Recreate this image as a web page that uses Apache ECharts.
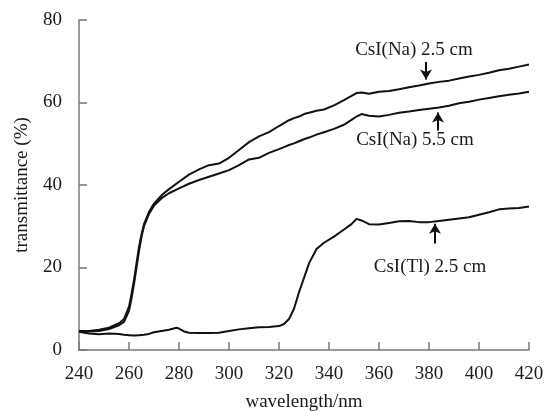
<!DOCTYPE html>
<html>
<head>
<meta charset="utf-8">
<script src="https://cdn.jsdelivr.net/npm/echarts@6/dist/echarts.min.js"></script>
<style>html,body{margin:0;padding:0;background:#fff}#c{width:546px;height:411px}</style>
</head>
<body>
<div id="c"></div>
<script>
// wavelength (nm) sample positions for the CsI(Na) curves
const wlNa = [240,244,248,252,256,258,260,261,262,263,264,265,266,268,270,273,276,280,284,288,292,296,300,304,308,312,316,320,322,324,326,328,330,332,335,338,342,346,349,351,353,356,360,364,368,372,376,380,384,388,392,396,400,404,408,412,416,420];
const na25 = [4.6,4.6,4.9,5.4,6.5,7.5,10.5,13.5,17,21,25,28,30.5,33.5,35.5,37.5,39,40.8,42.5,43.8,44.8,45.2,46.6,48.5,50.4,51.8,52.8,54.3,55,55.7,56.2,56.6,57.2,57.5,58,58.3,59.3,60.6,61.6,62.3,62.4,62.1,62.6,62.8,63.2,63.7,64.1,64.6,65,65.3,65.8,66.3,66.7,67.2,67.8,68.2,68.7,69.2];
const na55 = [4.6,4.5,4.6,5.1,6.0,6.8,9.5,12.5,16,20,24,27.5,30,33,35,36.8,38,39.2,40.3,41.2,42,42.8,43.6,44.8,46.2,46.6,47.8,48.7,49.2,49.7,50.1,50.6,51.1,51.5,52.2,52.8,53.6,54.6,55.8,56.6,57.2,56.8,56.6,57,57.5,57.8,58.2,58.5,58.8,59.2,59.8,60.2,60.7,61.1,61.5,61.9,62.2,62.6];
// wavelength (nm) sample positions for the CsI(Tl) curve
const wlTl = [240,244,248,252,256,258,260,262,264,266,268,270,273,276,279,280,282,284,288,292,296,300,304,308,312,316,320,322,324,326,328,330,332,335,338,342,346,349,351,353,356,360,364,368,372,376,380,384,388,392,396,400,404,408,412,416,420];
const tl25 = [4.4,4.0,3.8,4.0,3.9,3.7,3.6,3.5,3.6,3.7,3.9,4.3,4.6,4.9,5.4,5.2,4.5,4.2,4.1,4.1,4.2,4.6,5.0,5.3,5.5,5.6,5.8,6.3,7.5,10,14,17.5,21,24.5,26,27.5,29.2,30.5,31.8,31.4,30.5,30.4,30.8,31.2,31.3,31,31,31.3,31.6,31.9,32.2,32.8,33.4,34.1,34.3,34.4,34.8];

const seriesNames = ['CsI(Na) 2.5 cm','CsI(Na) 5.5 cm','CsI(Tl) 2.5 cm'];
// annotation label centres [x, y] and arrows [x, fromY, toY], in data units
const labelPos = [[374,72.8],[374.4,51.0],[380.4,20.0]];
const arrows = [[378.8,69.8,65.6],[383.6,53.2,57.6],[382.4,25.8,30.6]];

const xTicks = {min:240,max:420,interval:20};
const yTicks = {min:0,max:80,interval:20};

const FONT = "'Liberation Serif','Times New Roman',serif";
const TXT = '#1a1a1a';
const AX = '#7a7a7a';

function zip(xs, ys){ return xs.map((x,i)=>[x,ys[i]]); }
const dataSets = [zip(wlNa,na25), zip(wlNa,na55), zip(wlTl,tl25)];

const series = dataSets.map((d,i)=>({
  name: seriesNames[i],
  type:'line',
  data:d,
  showSymbol:false,
  symbol:'none',
  smooth:false,
  lineStyle:{color:'#111',width:2},
  silent:true,
  markLine:{
    silent:true,
    symbol:['none','arrow'],
    symbolSize:[9,10],
    lineStyle:{color:'#111',width:2,type:'solid'},
    label:{show:false},
    data:[[{coord:[arrows[i][0],arrows[i][1]]},{coord:[arrows[i][0],arrows[i][2]]}]]
  },
  markPoint:{
    silent:true,
    symbol:'circle',
    symbolSize:1,
    itemStyle:{color:'rgba(0,0,0,0)'},
    label:{show:true,position:'inside',formatter:seriesNames[i],color:TXT,fontFamily:FONT,fontSize:19},
    data:[{coord:labelPos[i]}]
  }
}));

const chart = echarts.init(document.getElementById('c'),null,{renderer:'canvas'});
chart.setOption({
  animation:false,
  backgroundColor:'#fff',
  grid:{left:79,right:17,top:20,bottom:61,containLabel:false,outerBoundsMode:'none'},
  xAxis:{
    type:'value',min:xTicks.min,max:xTicks.max,interval:xTicks.interval,
    name:'wavelength/nm',nameLocation:'middle',nameGap:43,
    nameTextStyle:{color:TXT,fontFamily:FONT,fontSize:19},
    axisLine:{show:true,lineStyle:{color:AX,width:1.5}},
    axisTick:{show:true,inside:true,length:8,lineStyle:{color:AX,width:1.5}},
    axisLabel:{color:TXT,fontFamily:FONT,fontSize:19,margin:15},
    splitLine:{show:false}
  },
  yAxis:{
    type:'value',min:yTicks.min,max:yTicks.max,interval:yTicks.interval,
    name:'transmittance (%)',nameLocation:'middle',nameGap:47,nameRotate:90,
    nameTextStyle:{color:TXT,fontFamily:FONT,fontSize:19},
    axisLine:{show:true,lineStyle:{color:AX,width:1.5}},
    axisTick:{show:true,inside:true,length:8,lineStyle:{color:AX,width:1.5}},
    axisLabel:{color:TXT,fontFamily:FONT,fontSize:19,margin:17},
    splitLine:{show:false}
  },
  series:series
});
</script>
</body>
</html>
